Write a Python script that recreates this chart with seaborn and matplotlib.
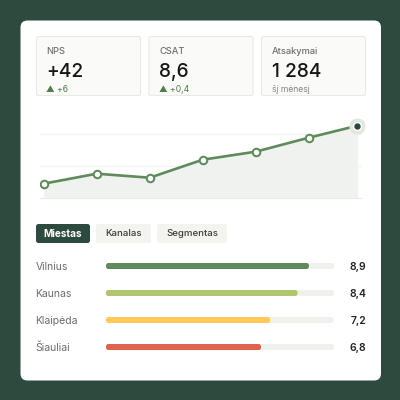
import matplotlib
matplotlib.use("Agg")
import matplotlib.pyplot as plt
from matplotlib.patches import FancyBboxPatch
import seaborn as sns

# --- data ---
periods = [1, 2, 3, 4, 5, 6, 6.92]
nps_values = [13, 18, 16, 25, 29, 36, 42]
grid_levels = [6, 22, 38]
kpi_titles = ["NPS", "CSAT", "Atsakymai"]
kpi_values = ["+42", "8,6", "1 284"]
kpi_notes = ["▲ +6", "▲ +0,4", "šį mėnesį"]
tabs = ["Miestas", "Kanalas", "Segmentas"]
cities = ["Vilnius", "Kaunas", "Klaipėda", "Šiauliai"]
scores = [8.9, 8.4, 7.2, 6.8]
score_max = [10, 10, 10, 10]
bar_colors = ["#5f8a5b", "#afc66d", "#ffc857", "#e0624c"]

DARK = "#2d4a3e"
GREEN = "#5f8a5b"

sns.set_theme(style="white")
plt.rcParams["font.family"] = ["Inter", "DejaVu Sans"]

W = H = 400
fig = plt.figure(figsize=(4, 4), dpi=100, facecolor=DARK)


def px_axes(x0, y0, x1, y1, **kw):
    return fig.add_axes([x0 / W, 1 - y1 / H, (x1 - x0) / W, (y1 - y0) / H], **kw)


# overlay in pixel coordinates for the page furniture
bg = fig.add_axes([0, 0, 1, 1], zorder=0)
bg.set_xlim(0, W)
bg.set_ylim(H, 0)
bg.axis("off")


def box(x0, y0, x1, y1, fc, ec="none", r=2.5, lw=0, z=1, ax=None, transform=None):
    a = ax or bg
    p = FancyBboxPatch((x0, y0), x1 - x0, y1 - y0,
                       boxstyle=f"round,pad=0,rounding_size={r}",
                       fc=fc, ec=ec, lw=lw, zorder=z,
                       transform=transform or bg.transData, clip_on=False)
    a.add_patch(p)
    return p


box(20.5, 20.5, 381, 380.5, "white", r=7)

# KPI cards
kpi_x = [(36.5, 140.5), (149, 253), (261.5, 365.5)]
for (x0, x1), title, val, note in zip(kpi_x, kpi_titles, kpi_values, kpi_notes):
    box(x0, 36.5, x1, 95.5, "#fafaf8", ec="#e9e9e5", lw=0.8, r=2)
    tx = x0 + 10
    bg.text(tx, 53.5, title, fontsize=6.7, color="#6f6f73", fontweight="medium", va="baseline", zorder=3)
    bg.text(tx, 77, val, fontsize=13.8, color="#161616", fontweight="medium", va="baseline", zorder=3)
    is_delta = note.startswith("▲")
    bg.text(tx, 91.5, note, fontsize=6.2, color="#4f7d4b" if is_delta else "#85858a",
            va="baseline", zorder=3)

# Line chart: 2 px per NPS point, 53 px per period
lx0, lx1, ly0, ly1 = 40, 362, 115, 200
ax = px_axes(lx0, ly0, lx1, ly1, zorder=2)
ax.patch.set_alpha(0)
ax.set_xlim(1 + (lx0 - 43.7) / 53, 1 + (lx1 - 43.7) / 53)
ax.set_ylim(42 - (ly1 - 125.7) / 2, 42 - (ly0 - 125.7) / 2)
for s in ax.spines.values():
    s.set_visible(False)
ax.set_xticks([])
ax.set_yticks(grid_levels)
ax.set_yticklabels([])
ax.tick_params(length=0)
ax.grid(axis="y", color="#f3f3f1", lw=0.9)
ax.get_ygridlines()[0].set_color("#ebebe8")
ax.set_axisbelow(True)
ax.fill_between(periods, nps_values, grid_levels[0], color="#f0f2ef", lw=0, zorder=1)
sns.lineplot(x=periods, y=nps_values, ax=ax, color=GREEN, lw=1.9,
             marker="o", markersize=5.4, markerfacecolor="white",
             markeredgecolor=GREEN, markeredgewidth=1.45, zorder=3, errorbar=None, sort=False)
ax.set_xlabel("")
ax.set_ylabel("")
ax.plot(periods[-1], nps_values[-1], "o", ms=9.2, mfc="white", mec="#e3e7e0", mew=2.4, zorder=4, clip_on=False)
ax.plot(periods[-1], nps_values[-1], "o", ms=4.6, mfc=DARK, mec="none", zorder=5, clip_on=False)

# Tabs
tab_x = [(36, 90), (96, 151), (157, 227)]
for i, ((x0, x1), name) in enumerate(zip(tab_x, tabs)):
    active = i == 0
    box(x0, 224, x1, 243, DARK if active else "#f3f3ef", r=2.5)
    bg.text((x0 + x1) / 2, 233.7, name, fontsize=7.2 if active else 6.9, color="white" if active else "#3b3b3f",
            fontweight="bold" if active else "medium", ha="center", va="center", zorder=3)

# Bars
bx0, bx1 = 106, 334
row0, row_h = 266, 27
by0, by1 = row0 - row_h / 2, row0 + 3.5 * row_h
bax = px_axes(bx0, by0, bx1, by1, zorder=2)
bax.patch.set_alpha(0)
sns.barplot(x=score_max, y=cities, ax=bax, color="#f0f0ec", width=6 / row_h, orient="h", saturation=1)
sns.barplot(x=scores, y=cities, ax=bax, color=GREEN, width=6 / row_h, orient="h", saturation=1)
bax.set_xlim(0, 10)
bax.set_ylim(3.5, -0.5)
bax.axis("off")

n = len(cities)
to_px = bax.transData + bg.transData.inverted()
patches = list(bax.patches)
for j, patch in enumerate(patches):
    (x0, y0), (x1, y1) = to_px.transform([(patch.get_x(), patch.get_y()),
                                          (patch.get_x() + patch.get_width(), patch.get_y() + patch.get_height())])
    color = "#f0f0ec" if j < n else bar_colors[j - n]
    patch.set_visible(False)
    box(x0, min(y0, y1), x1, max(y0, y1), color, r=2.5, z=2 + (j >= n), ax=bax)

for i, (city, score) in enumerate(zip(cities, scores)):
    y = row0 + i * row_h
    bg.text(35.6, y + 1.1, city, fontsize=7.5, color="#6b6b70", va="center", zorder=3)
    bg.text(366, y + 1.1, f"{score:.1f}".replace(".", ","), fontsize=7.5, color="#222226",
            fontweight="semibold", ha="right", va="center", zorder=3)

fig.savefig("out.png", dpi=100, facecolor=DARK)
